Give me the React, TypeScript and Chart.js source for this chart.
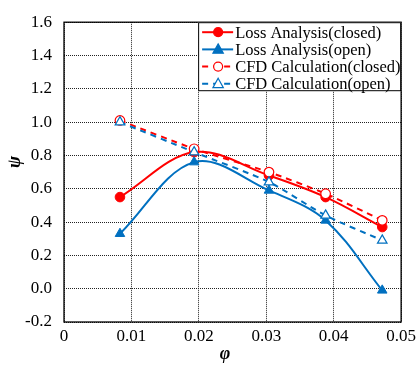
import React, { useEffect, useRef } from "react";
import { Chart, registerables } from "chart.js";

Chart.register(...registerables);

// Flow coefficient φ at each operating point
const phi = [0.0083, 0.0193, 0.0304, 0.0388, 0.0472];

// Head coefficient ψ for each method
const lossClosed = [0.55, 0.82, 0.68, 0.55, 0.37];
const lossOpen = [0.33, 0.76, 0.59, 0.41, -0.01];
const cfdClosed = [1.01, 0.84, 0.7, 0.57, 0.41];
const cfdOpen = [1.0, 0.82, 0.64, 0.44, 0.29];

const seriesNames = [
  "Loss Analysis(closed)",
  "Loss Analysis(open)",
  "CFD Calculation(closed)",
  "CFD Calculation(open)",
];

const RED = "#FF0000";
const BLUE = "#0070C0";
const SERIF = "'Liberation Serif', 'Times New Roman', serif";

const toPoints = (ys: number[]) => ys.map((y, i) => ({ x: phi[i], y }));

type LegendSpec = {
  label: string;
  color: string;
  dashed: boolean;
  shape: "circle" | "triangle";
  filled: boolean;
};

const legendSpecs: LegendSpec[] = [
  { label: seriesNames[0], color: RED, dashed: false, shape: "circle", filled: true },
  { label: seriesNames[1], color: BLUE, dashed: false, shape: "triangle", filled: true },
  { label: seriesNames[2], color: RED, dashed: true, shape: "circle", filled: false },
  { label: seriesNames[3], color: BLUE, dashed: true, shape: "triangle", filled: false },
];

function drawMarker(ctx: CanvasRenderingContext2D, s: LegendSpec, x: number, y: number) {
  ctx.save();
  ctx.setLineDash([]);
  ctx.lineWidth = 1.2;
  ctx.strokeStyle = s.color;
  ctx.fillStyle = s.filled ? s.color : "#ffffff";
  ctx.beginPath();
  if (s.shape === "circle") {
    ctx.arc(x, y, 4.5, 0, Math.PI * 2);
  } else {
    ctx.moveTo(x, y - 5.5);
    ctx.lineTo(x + 5.2, y + 3.8);
    ctx.lineTo(x - 5.2, y + 3.8);
    ctx.closePath();
  }
  ctx.fill();
  ctx.stroke();
  ctx.restore();
}

const framePlugin = {
  id: "frameAndLegend",
  afterDatasetsDraw(chart: any) {
    const { ctx, chartArea } = chart;
    const { left, right, top, bottom } = chartArea;
    ctx.save();
    // plot frame
    ctx.strokeStyle = "#000";
    ctx.lineWidth = 1.3;
    ctx.setLineDash([]);
    ctx.strokeRect(left, top, right - left, bottom - top);

    // legend box in the upper right of the plot
    const boxW = 203;
    const rowH = 17.2;
    const boxH = 69;
    const bx = right - boxW;
    const by = top;
    ctx.fillStyle = "#fff";
    ctx.fillRect(bx, by, boxW, boxH);
    ctx.lineWidth = 1;
    ctx.strokeRect(bx + 0.5, by + 0.5, boxW - 1, boxH - 1);

    ctx.font = `16.5px ${SERIF}`;
    ctx.textBaseline = "middle";
    ctx.textAlign = "left";
    legendSpecs.forEach((s, i) => {
      const cy = by + 10 + i * rowH;
      ctx.strokeStyle = s.color;
      ctx.lineWidth = 2;
      ctx.setLineDash(s.dashed ? [6, 5] : []);
      ctx.beginPath();
      ctx.moveTo(bx + 4, cy);
      ctx.lineTo(bx + 35, cy);
      ctx.stroke();
      drawMarker(ctx, s, bx + 20, cy);
      ctx.fillStyle = "#000";
      ctx.fillText(s.label, bx + 37, cy + 1);
    });

    // axis titles
    ctx.fillStyle = "#000";
    ctx.font = `italic bold 18px ${SERIF}`;
    ctx.textAlign = "center";
    ctx.fillText("φ", 225, 354);
    ctx.save();
    ctx.translate(15, 162);
    ctx.rotate(-Math.PI / 2);
    ctx.fillText("ψ", 0, 0);
    ctx.restore();
    ctx.restore();
  },
};

export default function App() {
  const canvasRef = useRef<HTMLCanvasElement | null>(null);

  useEffect(() => {
    document.body.style.margin = "0";
    const canvas = canvasRef.current;
    if (!canvas) return;

    const gridStyle = {
      color: "#222",
      lineWidth: 1,
      drawTicks: false,
    };

    const chart = new Chart(canvas, {
      type: "line",
      data: {
        datasets: [
          {
            label: seriesNames[0],
            data: toPoints(lossClosed),
            borderColor: RED,
            backgroundColor: RED,
            borderWidth: 2,
            pointStyle: "circle",
            pointRadius: 4.8,
            pointBorderWidth: 1,
            tension: 0.35,
            order: 4,
          },
          {
            label: seriesNames[1],
            data: toPoints(lossOpen),
            borderColor: BLUE,
            backgroundColor: BLUE,
            borderWidth: 2,
            pointStyle: "triangle",
            pointRadius: 5.5,
            pointBorderWidth: 1,
            tension: 0.35,
            order: 3,
          },
          {
            label: seriesNames[2],
            data: toPoints(cfdClosed),
            borderColor: RED,
            backgroundColor: "#fff",
            borderWidth: 2,
            borderDash: [6, 5],
            pointStyle: "circle",
            pointRadius: 4.8,
            pointBorderWidth: 1.2,
            pointBackgroundColor: "#fff",
            tension: 0.25,
            order: 2,
          },
          {
            label: seriesNames[3],
            data: toPoints(cfdOpen),
            borderColor: BLUE,
            backgroundColor: "#fff",
            borderWidth: 2,
            borderDash: [6, 5],
            pointStyle: "triangle",
            pointRadius: 5.5,
            pointBorderWidth: 1.2,
            pointBackgroundColor: "#fff",
            tension: 0.25,
            order: 1,
          },
        ],
      },
      options: {
        responsive: false,
        animation: false,
        layout: { padding: { top: 15, right: 17, left: 0, bottom: 0 } },
        plugins: {
          legend: { display: false },
          tooltip: { enabled: false },
        },
        scales: {
          x: {
            type: "linear",
            min: 0,
            max: 0.05,
            grid: gridStyle,
            border: { display: false, dash: [1, 1] },
            ticks: {
              stepSize: 0.01,
              padding: 4,
              color: "#000",
              font: { family: SERIF, size: 17 },
              maxRotation: 0,
              callback: (v: any) => (Number(v) === 0 ? "0" : Number(v).toFixed(2)),
            },
            afterFit: (scale: any) => {
              scale.height = 44;
            },
          },
          y: {
            type: "linear",
            min: -0.2,
            max: 1.6,
            grid: gridStyle,
            border: { display: false, dash: [1, 1] },
            ticks: {
              stepSize: 0.2,
              padding: 12,
              color: "#000",
              font: { family: SERIF, size: 17 },
              callback: (v: any) => Number(v).toFixed(1),
            },
            afterFit: (scale: any) => {
              scale.width = 64;
            },
          },
        },
      },
      plugins: [framePlugin],
    });

    return () => chart.destroy();
  }, []);

  return (
    <div style={{ position: "absolute", left: 0, top: 0, width: 420, height: 366 }}>
      <canvas ref={canvasRef} width={420} height={366} />
    </div>
  );
}
